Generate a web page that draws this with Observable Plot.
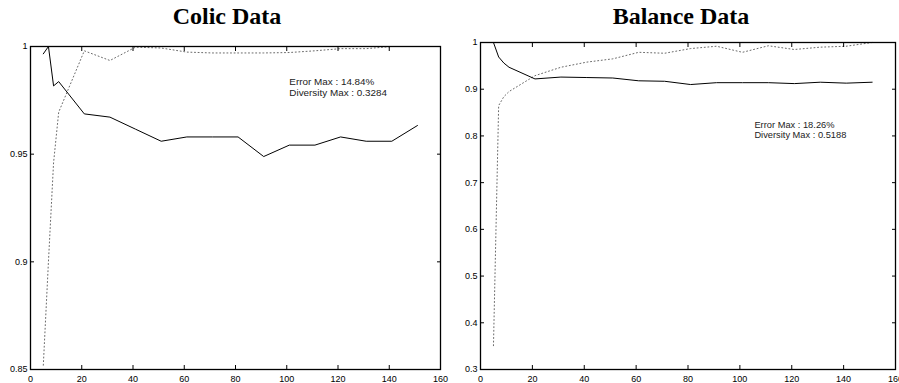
<!DOCTYPE html>
<html><head><meta charset="utf-8">
<script src="https://cdn.jsdelivr.net/npm/d3@7"></script>
<script src="https://cdn.jsdelivr.net/npm/@observablehq/plot@0.6"></script>
<style>
html,body{margin:0;padding:0;background:#fff;overflow:hidden}
#wrap{position:relative;width:899px;height:383px}
.panel{position:absolute;top:0}
.title{font-family:"Liberation Serif","Times New Roman",serif;font-weight:bold;font-size:24px;line-height:24px;height:36px;box-sizing:border-box;padding-top:4px;text-align:center;white-space:nowrap;color:#000}
svg{overflow:visible}
</style></head><body><div id="wrap"></div>
<script>
// ---- data ----
const ensembleSizes = [5, 7, 9, 11, 21, 31, 41, 51, 61, 71, 81, 91, 101, 111, 121, 131, 141, 151];
const colicError     = [0.9966, 1.0, 0.9817, 0.9837, 0.9687, 0.9672, 0.9616, 0.956, 0.958, 0.958, 0.958, 0.9489, 0.9542, 0.9542, 0.958, 0.956, 0.956, 0.9633];
const colicDiversity = [0.852, 0.900, 0.946, 0.9695, 0.998, 0.9935, 0.9997, 0.9993, 0.9974, 0.997, 0.997, 0.997, 0.9972, 0.998, 0.999, 0.999, 1.0, 1.0];
const balanceError     = [1.0, 0.969, 0.956, 0.947, 0.922, 0.926, 0.925, 0.924, 0.918, 0.917, 0.910, 0.914, 0.914, 0.914, 0.912, 0.915, 0.913, 0.915];
const balanceDiversity = [0.351, 0.865, 0.884, 0.895, 0.929, 0.947, 0.958, 0.965, 0.979, 0.977, 0.987, 0.992, 0.979, 0.993, 0.985, 0.990, 0.992, 1.0];
const xTicks = [0, 20, 40, 60, 80, 100, 120, 140, 160];
const colicYTicks = [0.85, 0.9, 0.95, 1];
const balanceYTicks = [0.3, 0.4, 0.5, 0.6, 0.7, 0.8, 0.9, 1];
const titles = ["Colic Data", "Balance Data"];
const colicNotes = ["Error Max : 14.84%", "Diversity Max : 0.3284"];
const balanceNotes = ["Error Max : 18.26%", "Diversity Max : 0.5188"];

// ---- panels ----
const panels = [
  {title: titles[0], error: colicError, diversity: colicDiversity, yTicks: colicYTicks, yDomain: [0.85, 1],
   notes: colicNotes, noteAt: {x: 101, y: 0.9855}, left: 0, width: 450, titleLeft: 4,
   margins: {marginTop: 10, marginBottom: 14, marginLeft: 30, marginRight: 10}, height: 347, noteSize: 9.9},
  {title: titles[1], error: balanceError, diversity: balanceDiversity, yTicks: balanceYTicks, yDomain: [0.3, 1],
   notes: balanceNotes, noteAt: {x: 105.6, y: 0.833}, left: 450, width: 449, titleLeft: 13,
   margins: {marginTop: 6, marginBottom: 14, marginLeft: 30, marginRight: 4}, height: 347, noteSize: 9.3}
];

const wrap = document.getElementById("wrap");
for (const p of panels) {
  const div = document.createElement("div");
  div.className = "panel";
  div.style.left = p.left + "px";
  div.style.width = p.width + "px";
  const t = document.createElement("div");
  t.className = "title";
  t.style.paddingLeft = p.titleLeft + "px";
  t.textContent = p.title;
  div.appendChild(t);

  const errData = ensembleSizes.map((x, i) => ({x, y: p.error[i]}));
  const divData = ensembleSizes.map((x, i) => ({x, y: p.diversity[i]}));
  const noteData = [{x: p.noteAt.x, y: p.noteAt.y, text: p.notes.join("\n")}];
  const blank = () => "";

  const chart = Plot.plot({
    width: p.width,
    height: p.height,
    ...p.margins,
    style: {fontFamily: "'Liberation Sans', Arial, Helvetica, sans-serif", fontSize: "9px", background: "white", color: "black", overflow: "visible"},
    x: {domain: [0, 160], label: null},
    y: {domain: p.yDomain, label: null},
    marks: [
      Plot.line(divData, {x: "x", y: "y", stroke: "#6a6a6a", strokeWidth: 1, strokeDasharray: "1 2.6"}),
      Plot.line(errData, {x: "x", y: "y", stroke: "black", strokeWidth: 1}),
      Plot.text(noteData, {x: "x", y: "y", text: "text", textAnchor: "start", lineAnchor: "top", fontSize: p.noteSize, lineHeight: 1.08, fill: "#222"}),
      Plot.axisX(xTicks, {anchor: "bottom", tickSize: 0, tickPadding: 6, label: null, tickFormat: d => String(d)}),
      Plot.axisX(xTicks, {anchor: "bottom", tickSize: -4, tickFormat: blank, label: null}),
      Plot.axisX(xTicks, {anchor: "top", tickSize: -4, tickFormat: blank, label: null}),
      Plot.axisY(p.yTicks, {anchor: "left", tickSize: 0, tickPadding: 3, label: null, tickFormat: d => String(d)}),
      Plot.axisY(p.yTicks, {anchor: "left", tickSize: -4, tickFormat: blank, label: null}),
      Plot.axisY(p.yTicks, {anchor: "right", tickSize: -4, tickFormat: blank, label: null}),
      Plot.frame({stroke: "black", strokeWidth: 1.3})
    ]
  });
  div.appendChild(chart);
  wrap.appendChild(div);
}
</script></body></html>
